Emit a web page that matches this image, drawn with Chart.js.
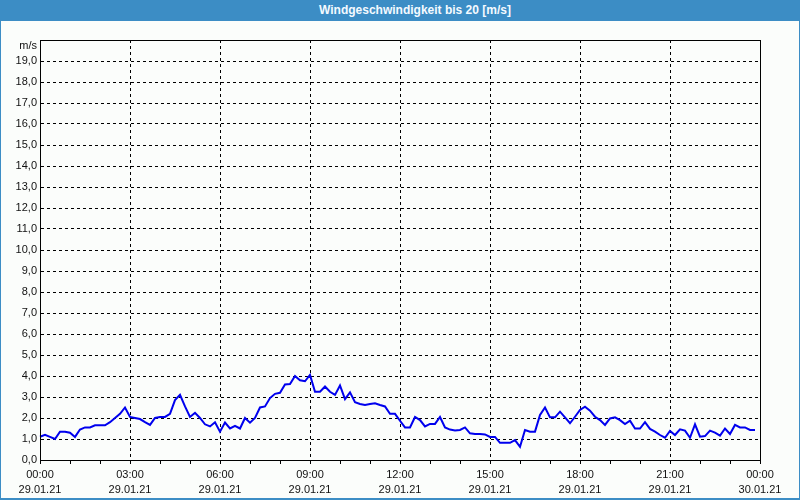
<!DOCTYPE html>
<html>
<head>
<meta charset="utf-8">
<script src="https://cdn.jsdelivr.net/npm/chart.js@4/dist/chart.umd.min.js"></script>
<style>
  html, body { margin: 0; padding: 0; background: #fbfdfb; }
  #wrap { position: relative; width: 800px; height: 500px; overflow: hidden; }
  #chart { position: absolute; left: 0; top: 0; }
  #frame {
    position: absolute; left: 0; top: 0; width: 800px; height: 500px; box-sizing: border-box;
    border-left: 1px solid #3c8dc5; border-right: 1px solid #3c8dc5; border-bottom: 2px solid #3c8dc5;
    pointer-events: none;
  }
  #title {
    position: absolute; left: 0; top: 0; width: 800px; height: 21px; box-sizing: border-box;
    background: #3c8dc5; color: #f4faff; padding-left: 30px;
    font: bold 12px "Liberation Sans", sans-serif; line-height: 21px; text-align: center;
  }
</style>
</head>
<body>
<div id="wrap">
  <canvas id="chart" width="800" height="500"></canvas>
  <div id="frame"></div>
  <div id="title">Windgeschwindigkeit bis 20 [m/s]</div>
</div>
<script>
// Zeitpunkte alle 10 Minuten, 00:00 bis 00:00 des Folgetages
const times = []
for (let m = 0; m <= 1440; m += 10) {
  const h = Math.floor(m / 60) % 24
  const mm = m % 60
  times.push(String(h).padStart(2, "0") + ":" + String(mm).padStart(2, "0"))
}
const dayLabels = ["29.01.21", "30.01.21"]

// Windgeschwindigkeit [m/s], 10-Minuten-Werte
const windSpeed = [
  1.11, 1.2, 1.1, 1.0, 1.35, 1.35, 1.3, 1.1, 1.45, 1.55, 1.55, 1.65, 1.65, 1.65, 1.8, 2.0, 2.2, 2.5, 2.05, 2.0, 1.95,
  1.8, 1.67, 2.0, 2.05, 2.05, 2.2, 2.85, 3.1, 2.55, 2.05, 2.25, 2.0, 1.7, 1.6, 1.8, 1.35, 1.78, 1.5, 1.63, 1.5, 2.0,
  1.78, 2.0, 2.5, 2.55, 2.95, 3.15, 3.2, 3.6, 3.62, 4.0, 3.8, 3.75, 4.05, 3.25, 3.25, 3.5, 3.25, 3.1, 3.55, 2.9,
  3.22, 2.75, 2.67, 2.62, 2.67, 2.7, 2.62, 2.55, 2.2, 2.2, 1.87, 1.55, 1.55, 2.05, 1.9, 1.6, 1.72, 1.72, 2.05, 1.55,
  1.45, 1.4, 1.43, 1.55, 1.27, 1.24, 1.24, 1.22, 1.1, 1.1, 0.82, 0.82, 0.82, 0.95, 0.63, 1.43, 1.35, 1.35, 2.15, 2.5,
  2.03, 2.03, 2.3, 2.03, 1.75, 2.06, 2.38, 2.54, 2.35, 2.06, 1.9, 1.67, 1.98, 2.03, 1.9, 1.71, 1.87, 1.5, 1.5, 1.8,
  1.48, 1.35, 1.19, 1.06, 1.38, 1.19, 1.46, 1.4, 1.06, 1.7, 1.11, 1.14, 1.4, 1.3, 1.16, 1.5, 1.24, 1.67, 1.55, 1.55, 1.43, 1.43,
]

const yMax = 20
const yStep = 1
const unitLabel = "m/s"
const tickFont = { family: "Liberation Sans", size: 11, lineHeight: 1.31 }

// Rahmen oben/rechts und Einheit
const framePlugin = {
  id: "frame",
  afterDraw(chart) {
    const { ctx, chartArea } = chart
    ctx.save()
    ctx.strokeStyle = "#000"
    ctx.lineWidth = 1
    ctx.strokeRect(chartArea.left + 0.5, chartArea.top + 0.5, chartArea.right - chartArea.left, chartArea.bottom - chartArea.top)
    ctx.fillStyle = "#111"
    ctx.font = "11px 'Liberation Sans'"
    ctx.textAlign = "right"
    ctx.textBaseline = "middle"
    ctx.fillText(unitLabel, chartArea.left - 3, chartArea.top + 6)
    ctx.restore()
  },
}

new Chart(document.getElementById("chart"), {
  type: "line",
  data: {
    labels: times,
    datasets: [
      {
        data: windSpeed,
        borderColor: "#0000ee",
        borderWidth: 2,
        pointRadius: 0,
        tension: 0,
        fill: false,
      },
    ],
  },
  options: {
    responsive: false,
    animation: false,
    layout: { padding: { top: 40, right: 40, left: 0, bottom: 0 } },
    plugins: { legend: { display: false }, tooltip: { enabled: false } },
    scales: {
      x: {
        type: "category",
        offset: false,
        afterFit: (scale) => { scale.height = 40 },
        border: { display: true, color: "#000", width: 1, dash: [3, 3] },
        grid: {
          color: (c) => (c.index % 18 === 0 && c.index !== 0 && c.index !== times.length - 1 ? "#000" : "rgba(0,0,0,0)"),
          tickColor: (c) => (c.index % 6 === 0 ? "#000" : "rgba(0,0,0,0)"),
          tickLength: 4,
          lineWidth: 1,
        },
        ticks: {
          autoSkip: false,
          maxRotation: 0,
          padding: 4,
          color: "#111",
          font: tickFont,
          callback: (value, index) => {
            if (index % 18 !== 0) return ""
            return [times[index], index === times.length - 1 ? dayLabels[1] : dayLabels[0]]
          },
        },
      },
      y: {
        min: 0,
        max: yMax,
        afterFit: (scale) => { scale.width = 40 },
        border: { display: true, color: "#000", width: 1, dash: [3, 3] },
        grid: {
          color: (c) => (c.tick.value > 0 && c.tick.value < yMax ? "#000" : "rgba(0,0,0,0)"),
          drawTicks: false,
          lineWidth: 1,
        },
        ticks: {
          stepSize: yStep,
          padding: 3,
          color: "#111",
          font: tickFont,
          callback: (v) => (v >= yMax ? "" : v.toFixed(1).replace(".", ",")),
        },
      },
    },
  },
  plugins: [framePlugin],
})
</script>
</body>
</html>
